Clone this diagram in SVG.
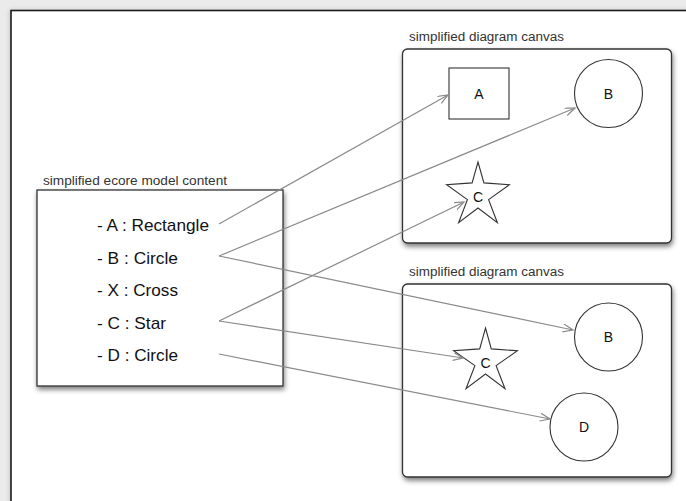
<svg xmlns="http://www.w3.org/2000/svg" width="686" height="501" viewBox="0 0 686 501">
  <defs>
    <style>
      .lbl { font-family: "Liberation Sans", Arial, sans-serif; font-size: 12px; fill: #333; }
      .item { font-family: "Liberation Sans", Arial, sans-serif; font-size: 17px; fill: #111; }
      .shape-txt { font-family: "Liberation Sans", Arial, sans-serif; font-size: 14px; fill: #111; text-anchor: middle; }
      .box { fill: #fff; stroke: #333; stroke-width: 1.3; }
      .shape { fill: #fff; stroke: #333; stroke-width: 1.1; }
      .conn { fill: none; stroke: #8a8a8a; stroke-width: 1.2; marker-end: url(#arr); }
    </style>
    <marker id="arr" markerUnits="userSpaceOnUse" markerWidth="12" markerHeight="10" refX="10" refY="4" orient="auto" viewBox="0 0 12 10">
      <path d="M0,0 L10,4 L0,8" fill="none" stroke="#8a8a8a" stroke-width="1.2"/>
    </marker>
    <filter id="sh" x="-10%" y="-10%" width="125%" height="130%">
      <feDropShadow dx="1" dy="3" stdDeviation="2.5" flood-color="#000" flood-opacity="0.5"/>
    </filter>
    <filter id="sh2" x="-10%" y="-10%" width="125%" height="130%">
      <feDropShadow dx="-1" dy="0" stdDeviation="2" flood-color="#000" flood-opacity="0.15"/>
    </filter>
  </defs>

  <rect x="0" y="0" width="686" height="501" fill="#ebebeb"/>
  <rect x="11" y="10.5" width="690" height="510" fill="#fff" stroke="#1a1a1a" stroke-width="1.6" filter="url(#sh2)"/>

  <g id="model">
    <text class="lbl" x="43" y="185" textLength="184" lengthAdjust="spacingAndGlyphs">simplified ecore model content</text>
    <rect class="box" x="37" y="190" width="246" height="196" filter="url(#sh)"/>
    <text class="item" x="97" y="231" textLength="112" lengthAdjust="spacingAndGlyphs">- A : Rectangle</text>
    <text class="item" x="97" y="263.5" textLength="81" lengthAdjust="spacingAndGlyphs">- B : Circle</text>
    <text class="item" x="97" y="296" textLength="81" lengthAdjust="spacingAndGlyphs">- X : Cross</text>
    <text class="item" x="97" y="328.5" textLength="69" lengthAdjust="spacingAndGlyphs">- C : Star</text>
    <text class="item" x="97" y="361" textLength="81" lengthAdjust="spacingAndGlyphs">- D : Circle</text>
  </g>

  <g id="canvas1">
    <text class="lbl" x="409" y="41" textLength="155" lengthAdjust="spacingAndGlyphs">simplified diagram canvas</text>
    <rect class="box" x="402.5" y="49" width="269" height="194" rx="5" ry="5" filter="url(#sh)"/>
  </g>
  <g id="c1-A">
    <rect class="shape" x="449" y="68" width="60" height="51"/>
    <text class="shape-txt" x="479" y="99">A</text>
  </g>
  <g id="c1-B">
    <ellipse class="shape" cx="608.5" cy="93.5" rx="34" ry="34"/>
    <text class="shape-txt" x="608.5" y="99">B</text>
  </g>
  <g id="c1-C">
    <polygon class="shape" points="478,162 483.9,182.9 509.4,184.8 488.6,199.6 497.4,222.7 478,208 458.6,222.7 467.4,199.6 446.6,184.8 472.1,182.9"/>
    <text class="shape-txt" x="478" y="202">C</text>
  </g>

  <g id="canvas2">
    <text class="lbl" x="409" y="276" textLength="155" lengthAdjust="spacingAndGlyphs">simplified diagram canvas</text>
    <rect class="box" x="402.5" y="284" width="269" height="193" rx="5" ry="5" filter="url(#sh)"/>
  </g>
  <g id="c2-B">
    <ellipse class="shape" cx="608.5" cy="337" rx="34" ry="34"/>
    <text class="shape-txt" x="608.5" y="342">B</text>
  </g>
  <g id="c2-C">
    <polygon class="shape" points="485.5,328 491.3,348.9 517.4,350.8 496.1,365.6 505,388.7 485.5,374 466,388.7 474.9,365.6 453.6,350.8 479.7,348.9"/>
    <text class="shape-txt" x="485.5" y="368">C</text>
  </g>
  <g id="c2-D">
    <ellipse class="shape" cx="584" cy="427" rx="34" ry="34"/>
    <text class="shape-txt" x="584" y="432">D</text>
  </g>

  <g id="connectors">
    <line class="conn" x1="219" y1="224" x2="448" y2="95"/>
    <line class="conn" x1="219" y1="256" x2="575" y2="108"/>
    <line class="conn" x1="219" y1="256" x2="573" y2="330"/>
    <line class="conn" x1="219" y1="321" x2="464" y2="202"/>
    <line class="conn" x1="219" y1="321" x2="463" y2="358"/>
    <line class="conn" x1="219" y1="354" x2="550" y2="419"/>
  </g>
</svg>
